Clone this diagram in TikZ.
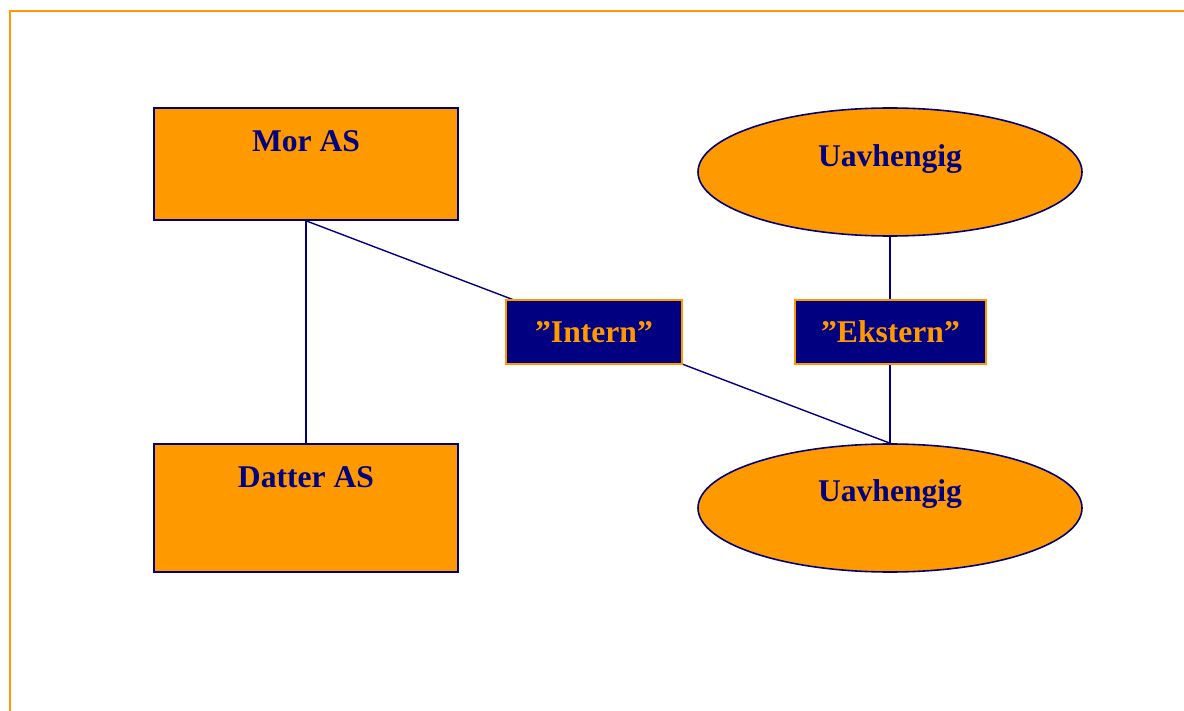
\documentclass[tikz,border=0pt]{standalone}
\usepackage{fontspec}
\setmainfont{Liberation Serif}
\usetikzlibrary{shapes.geometric,backgrounds}
\definecolor{boxorange}{HTML}{FF9900}
\definecolor{navy}{HTML}{000080}
\tikzset{
  company/.style={draw=navy, line width=1.6pt, fill=boxorange, minimum width=304pt, minimum height=#1, inner sep=0pt},
  indep/.style={ellipse, draw=navy, line width=1.6pt, fill=boxorange, minimum width=384pt, minimum height=128pt, inner sep=0pt},
  tag/.style={draw=boxorange, line width=1.6pt, fill=navy, text=boxorange, inner sep=0pt, font=\bfseries\fontsize{31.6}{36}\selectfont},
  lbl/.style={text=navy, inner sep=0pt, font=\bfseries\fontsize{31.6}{36}\selectfont},
  link/.style={draw=navy, line width=1.4pt}
}
\begin{document}
\begin{tikzpicture}[x=1pt, y=-1pt]
  \useasboundingbox (0,0) rectangle (1184,711);
  % page frame
  \draw[boxorange, line width=2pt] (9.5,711) -- (9.5,11) -- (1184,11);

  % companies
  \node[company=112pt] (mor) at (306,164) {};
  \node[lbl] (morlbl) at (306,141) {Mor AS};
  \node[company=128pt] (datter) at (306,508) {};
  \node[lbl] (datterlbl) at (306,477) {Datter AS};

  % independent parties
  \node[indep] (uav1) at (890,172) {};
  \node[lbl] (uav1lbl) at (890,159) {Uavhengig};
  \node[indep] (uav2) at (890,508) {};
  \node[lbl] (uav2lbl) at (890,494) {Uavhengig};

  % relation tags
  \node[tag, minimum width=176pt, minimum height=64pt] (intern) at (594,332) {”Intern”};
  \node[tag, minimum width=191pt, minimum height=64pt] (ekstern) at (890.5,332) {”Ekstern”};

  % connectors behind the shapes
  \begin{pgfonlayer}{background}
    \draw[link] (mor.south) -- (datter.north);
    \draw[link] (mor.south) -- (uav2.north);
    \draw[link] (uav1.south) -- (uav2.north);
  \end{pgfonlayer}
\end{tikzpicture}
\end{document}
